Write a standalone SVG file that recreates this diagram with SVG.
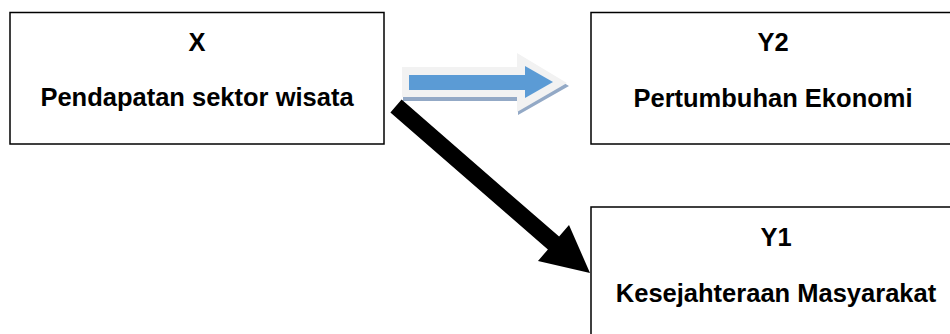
<svg xmlns="http://www.w3.org/2000/svg" width="950" height="334" viewBox="0 0 950 334">
<style>
.box{fill:#fff;stroke:#000;stroke-width:1.5}
.t{font-family:"Liberation Sans",Arial,sans-serif;font-weight:bold;font-size:25.5px;fill:#000;text-anchor:middle}
</style>
<rect width="950" height="334" fill="#fff"/>
<g id="node-x">
<rect class="box" x="10" y="12.5" width="374" height="131.5"/>
<text class="t" x="197" y="51">X</text>
<text class="t" x="197" y="106">Pendapatan sektor wisata</text>
</g>
<g id="node-y2">
<rect class="box" x="591" y="12.5" width="370" height="131.5"/>
<text class="t" x="773" y="51">Y2</text>
<text class="t" x="773" y="107">Pertumbuhan Ekonomi</text>
</g>
<g id="node-y1">
<rect class="box" x="591" y="207" width="370" height="140"/>
<text class="t" x="776" y="246">Y1</text>
<text class="t" x="776" y="302">Kesejahteraan Masyarakat</text>
</g>
<g id="connectors">
<g id="arrow-x-y2">
<polygon points="403,70 518,70 518,56 569,86 518,115 518,101 403,101" fill="#93a9c6"/>
<polygon points="402,67 517,67 517,53 567,83 517,112 517,97 402,97" fill="#f2f2f2"/>
<polygon points="409,75 525,75 525,66 553,82 525,98 525,90 409,90" fill="#5b9bd5"/>
</g>
<g id="arrow-x-y1">
<polygon points="401.6,99.6 559.1,236.6 569,225 590,273 538,261 547.9,249.4 390.4,112.4" fill="#000"/>
</g>
</g>
</svg>
